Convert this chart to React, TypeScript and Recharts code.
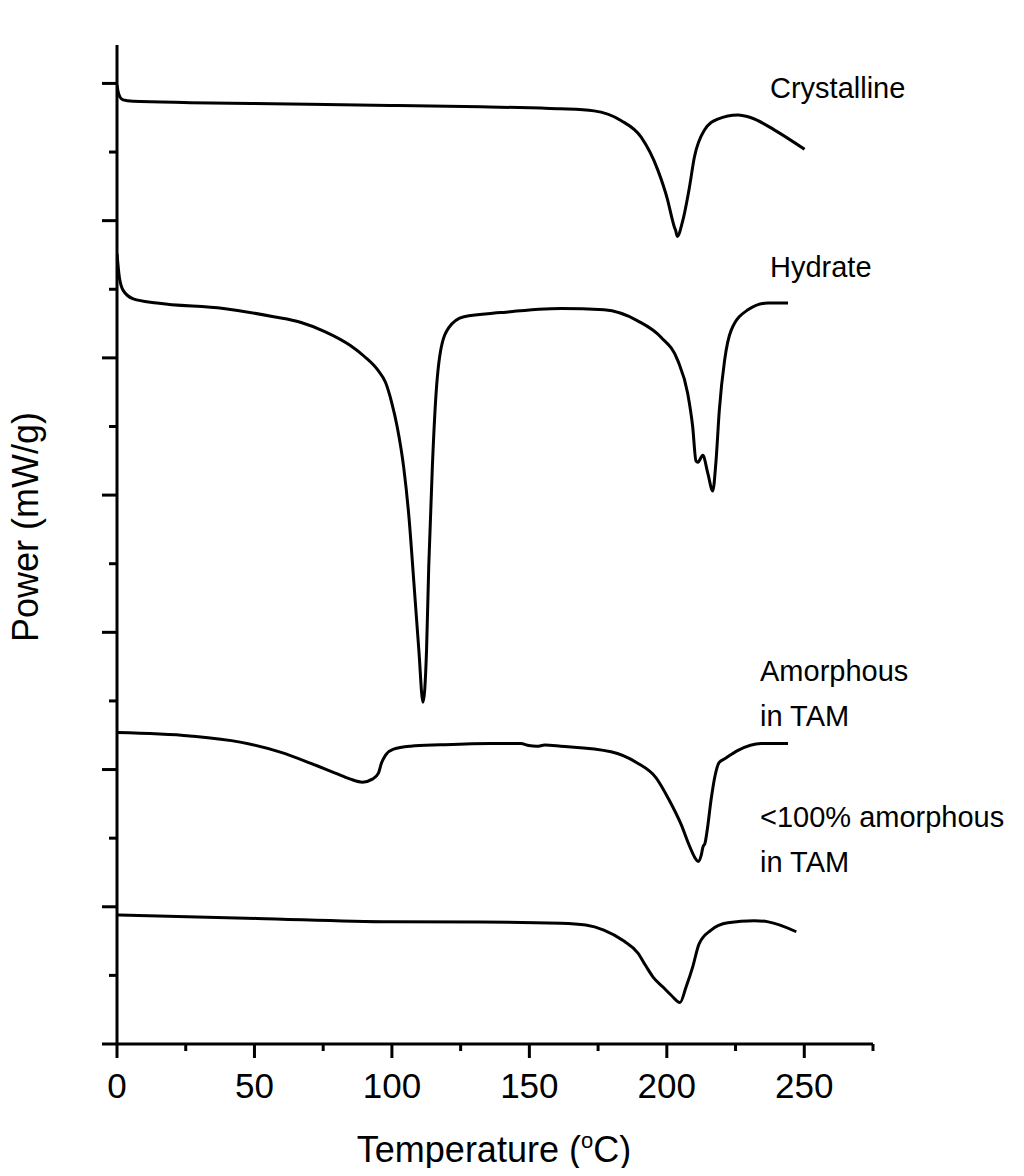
import React from 'react';
import { LineChart, Line, XAxis, YAxis } from 'recharts';

const FONT = '"Liberation Sans", Arial, Helvetica, sans-serif';

// Temperature (°C) and power (arbitrary offset units, 1 unit = one major y tick)
const crystallineT = [0, 0.4, 1.1, 2.2, 5.8, 26.6, 63.0, 99.5, 132.3, 154.2, 161.4, 173.5, 183.3, 190.6, 196.7, 200.3, 202.1, 202.8, 203.2, 203.8, 205.8, 208.2, 210.0, 213.7, 218.5, 225.8, 230.7, 239.2, 250.1];
const crystallineP = [6.99, 6.94, 6.90, 6.88, 6.87, 6.86, 6.85, 6.84, 6.83, 6.82, 6.815, 6.80, 6.73, 6.61, 6.37, 6.15, 6.00, 5.95, 5.93, 5.885, 6.00, 6.24, 6.46, 6.66, 6.74, 6.77, 6.75, 6.66, 6.52];

const hydrateT = [0, 0.84, 2.3, 5.94, 14.5, 38.7, 57.0, 66.7, 75.8, 84.9, 90.0, 94.9, 97.7, 99.9, 101.9, 104.3, 106.2, 108.0, 109.8, 111.3, 112.6, 113.4, 114.7, 115.9, 117.7, 120.7, 126.2, 139.6, 161.4, 177.2, 189.4, 197.9, 204.0, 207.6, 209.4, 210.6, 211.3, 213.1, 214.9, 216.7, 217.9, 219.1, 221.0, 223.4, 229.5, 236.8, 244.1];
const hydrateP = [5.76, 5.59, 5.49, 5.43, 5.40, 5.36, 5.30, 5.26, 5.19, 5.09, 5.01, 4.91, 4.82, 4.676, 4.50, 4.20, 3.84, 3.36, 2.87, 2.49, 2.87, 3.48, 4.20, 4.69, 5.05, 5.22, 5.30, 5.33, 5.36, 5.35, 5.27, 5.15, 4.98, 4.74, 4.50, 4.25, 4.24, 4.29, 4.16, 4.03, 4.25, 4.62, 4.98, 5.20, 5.35, 5.40, 5.40];

const amorphousT = [0, 26.6, 44.8, 59.4, 70.3, 79.4, 84.9, 89.3, 92.9, 95.1, 96.2, 97.7, 100.6, 106.8, 117.7, 135.9, 146.9, 149.8, 152.7, 155.6, 161.4, 179.7, 189.1, 196.1, 200.8, 205.2, 208.1, 210.3, 211.4, 212.5, 213.2, 213.8, 214.7, 216.1, 217.6, 219.0, 221.2, 225.9, 234.3, 244.1];
const amorphousP = [2.27, 2.245, 2.20, 2.127, 2.047, 1.974, 1.93, 1.908, 1.93, 1.974, 2.047, 2.105, 2.149, 2.17, 2.18, 2.19, 2.19, 2.175, 2.17, 2.178, 2.17, 2.13, 2.05, 1.94, 1.78, 1.60, 1.45, 1.355, 1.33, 1.375, 1.44, 1.457, 1.56, 1.78, 1.96, 2.05, 2.08, 2.14, 2.19, 2.19];

const partialT = [0, 50.9, 99.5, 132.3, 161.4, 170.5, 177.1, 184.4, 189.5, 192.4, 195.0, 198.6, 201.5, 204.8, 207.0, 209.4, 211.7, 216.1, 222.2, 231.8, 236.9, 247.1];
const partialP = [0.94, 0.915, 0.89, 0.889, 0.88, 0.867, 0.83, 0.75, 0.663, 0.568, 0.488, 0.415, 0.357, 0.302, 0.415, 0.56, 0.728, 0.83, 0.883, 0.898, 0.89, 0.818];

const xTicks = [0, 25, 50, 75, 100, 125, 150, 175, 200, 225, 250, 275];
const yTicks = [0, 0.5, 1, 1.5, 2, 2.5, 3, 3.5, 4, 4.5, 5, 5.5, 6, 6.5, 7];

const seriesLabels = [
  { lines: ['Crystalline'], x: 770, y: 98 },
  { lines: ['Hydrate'], x: 770, y: 277 },
  { lines: ['Amorphous', 'in TAM'], x: 760, y: 681 },
  { lines: ['<100% amorphous', 'in TAM'], x: 760, y: 827 },
];

const zip = (t: number[], p: number[]) => t.map((v, i) => ({ t: v, p: p[i] }));
const series = [
  zip(crystallineT, crystallineP),
  zip(hydrateT, hydrateP),
  zip(amorphousT, amorphousP),
  zip(partialT, partialP),
];

const XTick = (props: any) => {
  const { x, y, payload } = props;
  const v = payload.value;
  const major = v % 50 === 0;
  return (
    <g>
      <line x1={x} x2={x} y1={y} y2={y + (major ? 14 : 7)} stroke="#000" strokeWidth={3} />
      {major && (
        <text x={x} y={y + 54} textAnchor="middle" fontSize={35} fontFamily={FONT} fill="#000">
          {v}
        </text>
      )}
    </g>
  );
};

const YTick = (props: any) => {
  const { x, y, payload } = props;
  const v = payload.value;
  const major = Math.abs(v - Math.round(v)) < 1e-6;
  return <line x1={x - (major ? 15 : 8)} x2={x} y1={y} y2={y} stroke="#000" strokeWidth={3} />;
};

export default function App() {
  return (
    <div style={{ margin: -8, width: 1024, height: 1176, background: '#fff' }}>
      <LineChart width={1024} height={1176} margin={{ top: 45, right: 151, bottom: 92, left: 77 }}>
        <XAxis
          type="number"
          dataKey="t"
          domain={[0, 275]}
          ticks={xTicks}
          interval={0}
          allowDataOverflow
          height={40}
          tickSize={0}
          tickMargin={0}
          tickLine={false}
          tick={<XTick />}
          axisLine={{ stroke: '#000', strokeWidth: 3 }}
        />
        <YAxis
          type="number"
          domain={[0, 7.28]}
          ticks={yTicks}
          interval={0}
          allowDataOverflow
          width={40}
          tickSize={0}
          tickMargin={0}
          tickLine={false}
          tick={<YTick />}
          axisLine={{ stroke: '#000', strokeWidth: 3 }}
        />
        {series.map((d, i) => (
          <Line
            key={i}
            data={d}
            dataKey="p"
            type="monotone"
            stroke="#000"
            strokeWidth={3}
            dot={false}
            activeDot={false}
            isAnimationActive={false}
          />
        ))}
        {seriesLabels.map((l, i) => (
          <text key={'l' + i} x={l.x} y={l.y} fontSize={29} fontFamily={FONT} fill="#000">
            {l.lines.map((s, j) => (
              <tspan key={j} x={l.x} dy={j === 0 ? 0 : 45}>
                {s}
              </tspan>
            ))}
          </text>
        ))}
        <text x={494} y={1162} textAnchor="middle" fontSize={36} fontFamily={FONT} fill="#000">
          Temperature (<tspan dy={-14} fontSize={22}>o</tspan>
          <tspan dy={14}>C)</tspan>
        </text>
        <text
          x={38}
          y={527}
          transform="rotate(-90 38 527)"
          textAnchor="middle"
          fontSize={36}
          fontFamily={FONT}
          fill="#000"
        >
          Power (mW/g)
        </text>
      </LineChart>
    </div>
  );
}
